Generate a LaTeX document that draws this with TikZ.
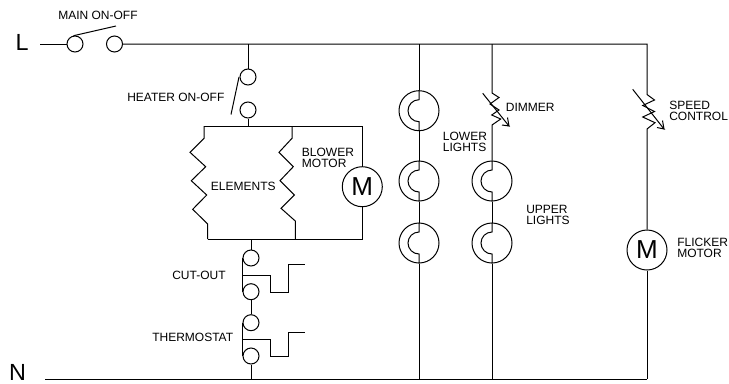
\documentclass[tikz,border=0pt]{standalone}
\usepackage{fontspec}
\setmainfont{Liberation Sans}
\usetikzlibrary{calc}
\tikzset{
  x=0.75pt,y=-0.75pt,
  wire/.style={line width=0.75pt,line join=miter},
  term/.style={draw,circle,line width=0.75pt,inner sep=0pt,minimum size=12pt},
  lampbody/.style={draw,circle,line width=0.75pt,inner sep=0pt,minimum size=30pt},
  motor/.style={draw,circle,line width=0.75pt,inner sep=0pt,minimum size=30pt,font=\fontsize{19.5pt}{19.5pt}\selectfont},
  lab/.style={inner sep=0pt,anchor=base west,font=\fontsize{9pt}{8.2pt}\selectfont,align=left},
  lineletter/.style={inner sep=0pt,font=\fontsize{17.5pt}{17.5pt}\selectfont},
}
\newcommand{\lampinner}[1]{\draw[wire] (#1.north) -- ($(#1.center)+(0,-11)$) arc[start angle=90,end angle=270,radius=8.25pt] -- (#1.south);}
\begin{document}
\begin{tikzpicture}
\useasboundingbox (0,0) rectangle (729,383);
% terminals
\node[term] (m1) at (75,44) {};
\node[term] (m2) at (114.5,44) {};
\node[term] (h1) at (248,77) {};
\node[term] (h2) at (248,110) {};
\node[term] (c1) at (251,258) {};
\node[term] (c2) at (251,291.7) {};
\node[term] (t1) at (251,322.7) {};
\node[term] (t2) at (251,356) {};
% lamps and motors
\node[lampbody] (a1) at (419,110.7) {};
\node[lampbody] (a2) at (419,181) {};
\node[lampbody] (a3) at (419,243) {};
\node[lampbody] (b1) at (492,181) {};
\node[lampbody] (b2) at (492,243) {};
\node[motor] (bm) at (362.3,186.7) {M};
\node[motor] (fm) at (647,250) {M};
% coordinates
\coordinate (ls) at (40,44);
\coordinate (ns) at (45,379);
\coordinate (nr) at (647,379);
\coordinate (lr) at (647,44);
\coordinate (jh) at (248,44);
\coordinate (ja) at (419,44);
\coordinate (jb) at (492,44);
\coordinate (jh2) at (248,126);
\coordinate (bl) at (204,126);
\coordinate (bm2) at (292,126);
\coordinate (br) at (362.3,126);
\coordinate (el) at (207.7,239);
\coordinate (em) at (295.3,239);
\coordinate (er) at (362.3,239);
\coordinate (jc) at (251,239);
\coordinate (jt) at (251,379);
\coordinate (na) at (419,379);
\coordinate (nb) at (492,379);
% labels
\node[lineletter] (Ll) at (22,42.5) {L};
\node[lineletter] (Nl) at (17.5,372.5) {N};
\node[lab] (tmain) at (58,19.3) {MAIN ON-OFF};
\node[lab] (theat) at (127,101.3) {HEATER ON-OFF};
\node[lab,anchor=north west] (tblow) at (301.7,147.5) {BLOWER\\MOTOR};
\node[lab] (tele) at (210.7,190.3) {ELEMENTS};
\node[lab] (tcut) at (172,279.3) {CUT-OUT};
\node[lab] (tthe) at (152,341) {THERMOSTAT};
\node[lab] (tdim) at (505.7,111.3) {DIMMER};
\node[lab,anchor=north west] (tlow) at (442.7,132) {LOWER\\LIGHTS};
\node[lab,anchor=north west] (tupp) at (526,205) {UPPER\\LIGHTS};
\node[lab,anchor=north west] (tspd) at (669,100.5) {SPEED\\CONTROL};
\node[lab,anchor=north west] (tfli) at (677,238) {FLICKER\\MOTOR};
% main line
\draw[wire] (ls) -- (m1.west);
\draw[wire] (m2.east) -- (lr) -- (647,94.5) -- (654.5,100) -- (642.7,105.5) -- (654.5,111.5) -- (642.7,117) -- (655,122.7) -- (647,129) -- (fm.north);
\draw[wire] (fm.south) -- (nr);
\draw[wire] (ns) -- (nr);
\draw[wire] (73.5,35.7) -- (116,26);
% speed arrow
\draw[wire] (632.7,89.3) -- (664,129) -- (657,127.5);
\draw[wire] (664,129) -- (662.5,120.5);
% heater
\draw[wire] (jh) -- (h1.north);
\draw[wire] (h2.south) -- (jh2);
\draw[wire] (239,77) -- (231,114.5);
% element box
\draw[wire] (bl) -- (br) -- (bm.north);
\draw[wire] (bm.south) -- (er) -- (el);
\draw[wire] (bl) -- (204,138.3) -- (190,152.3) -- (205.7,166.7) -- (191.3,180.7) -- (206.7,195) -- (192.7,209.3) -- (207.7,224) -- (el);
\draw[wire] (bm2) -- (292,138.3) -- (279,152.3) -- (293.3,166.7) -- (280,180.7) -- (294.3,195) -- (281,208.3) -- (295.3,221) -- (em);
% cut-out and thermostat
\draw[wire] (jc) -- (c1.north);
\draw[wire] (c2.south) -- (t1.north);
\draw[wire] (t2.south) -- (jt);
\draw[wire] (c1.west) -- (c2.west);
\draw[wire] (t1.west) -- (t2.west);
\draw[wire] (243,275) -- (270.7,275) -- (270.7,292) -- (288,292) -- (288,264) -- (305,264);
\draw[wire] (243,339) -- (270.7,339) -- (270.7,356) -- (288,356) -- (288,332.3) -- (305,332.3);
% lamps
\draw[wire] (ja) -- (a1.north);
\draw[wire] (a1.south) -- (a2.north);
\draw[wire] (a2.south) -- (a3.north);
\draw[wire] (a3.south) -- (na);
\lampinner{a1}\lampinner{a2}\lampinner{a3}
\draw[wire] (jb) -- (492,93) -- (499,97.5) -- (490,104) -- (499,110) -- (491.7,115) -- (500.7,119) -- (492,125) -- (b1.north);
\draw[wire] (b1.south) -- (b2.north);
\draw[wire] (b2.south) -- (nb);
\lampinner{b1}\lampinner{b2}
\draw[wire] (482.7,93.3) -- (509,126) -- (502,125);
\draw[wire] (509,126) -- (507.5,117.5);
\end{tikzpicture}
\end{document}
